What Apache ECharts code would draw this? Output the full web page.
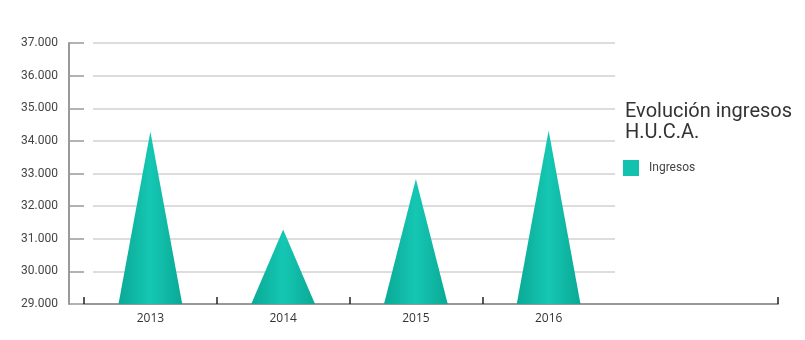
<!DOCTYPE html>
<html><head><meta charset="utf-8">
<script src="https://cdn.jsdelivr.net/npm/echarts@6/dist/echarts.min.js"></script>
<style>html,body{margin:0;padding:0;background:#fff}#c{width:805px;height:340px}</style>
</head><body><div id="c"></div>
<script>
const categories = ['2013', '2014', '2015', '2016'];
const ingresos = [34290, 31280, 32830, 34320];
const yMin = 29000;
const yMax = 37000;
const yStep = 1000;
const seriesName = 'Ingresos';
const titleText = 'Evolución ingresos\nH.U.C.A.';

const chart = echarts.init(document.getElementById('c'), null, {renderer: 'canvas'});
const fmt = v => String(v).replace(/\B(?=(\d{3})+(?!\d))/g, '.');

function renderItem(params, api) {
  const idx = api.value(0);
  const top = api.coord([idx, api.value(1)]);
  const base = api.coord([idx, yMin]);
  const half = api.size([1, 0])[0] * 0.24;
  return {
    type: 'polygon',
    shape: { points: [[base[0] - half, base[1]], [top[0], top[1]], [base[0] + half, base[1]]] },
    style: {
      fill: new echarts.graphic.LinearGradient(0, 0, 1, 0, [
        {offset: 0, color: '#0aa995'},
        {offset: 0.5, color: '#15c7b3'},
        {offset: 1, color: '#0aa995'}
      ])
    }
  };
}

const axisLineStyle = {color: '#999', width: 2};
const tickStyle = {color: '#222', width: 1.5};
chart.setOption({
  animation: false,
  title: {
    text: titleText, left: 625, top: 101, padding: 0,
    textStyle: {fontSize: 20, fontWeight: 'normal', color: '#333', fontFamily: 'Roboto', lineHeight: 21}
  },
  legend: {
    data: [{name: seriesName, icon: 'rect'}],
    left: 623, top: 160, padding: 0, itemWidth: 16, itemHeight: 16,
    textStyle: {fontSize: 12, color: '#444', fontFamily: 'Roboto', padding: [0, 0, 0, 5]}
  },
  grid: [
    {left: 84, right: 190, top: 43, bottom: 36},
    {left: 615, right: 27, top: 43, bottom: 36},
    {left: 93, right: 190, top: 43, bottom: 36},
    {left: 84, right: 322.75, top: 43, bottom: 36}
  ],
  xAxis: [
    {gridIndex: 0, type: 'category', data: categories, boundaryGap: true,
     axisLine: {onZero: false, lineStyle: axisLineStyle},
     axisTick: {show: false},
     axisLabel: {color: '#333', fontSize: 12, fontFamily: 'Open Sans', margin: 9}},
    {gridIndex: 1, type: 'category', data: ['', ''], boundaryGap: false,
     axisLine: {onZero: false, lineStyle: axisLineStyle},
     axisTick: {show: true, inside: true, length: 7, interval: (i) => i === 1, lineStyle: tickStyle},
     axisLabel: {show: false}},
    {gridIndex: 2, type: 'category', data: categories, show: false},
    {gridIndex: 3, type: 'value', min: 0, max: 3, interval: 1,
     axisLine: {show: false, onZero: false},
     axisTick: {show: true, inside: true, length: 7, lineStyle: tickStyle},
     axisLabel: {show: false}, splitLine: {show: false}}
  ],
  yAxis: [
    {gridIndex: 0, type: 'value', min: yMin, max: yMax, interval: yStep, offset: 15,
     axisLine: {show: true, lineStyle: axisLineStyle},
     axisTick: {show: true, inside: true, length: 15, lineStyle: {color: '#999', width: 1.5}},
     splitLine: {show: false},
     axisLabel: {formatter: fmt, color: '#444', fontSize: 12, fontFamily: 'Roboto', margin: 11}},
    {gridIndex: 1, type: 'value', min: yMin, max: yMax, show: false, splitLine: {show: false}},
    {gridIndex: 2, type: 'value', min: yMin, max: yMax, interval: yStep,
     axisLine: {show: false}, axisTick: {show: false}, axisLabel: {show: false},
     splitLine: {show: true, lineStyle: {color: '#ddd', width: 2}}},
    {gridIndex: 3, type: 'value', min: yMin, max: yMax, show: false, splitLine: {show: false}}
  ],
  series: [{
    name: seriesName, type: 'custom', xAxisIndex: 0, yAxisIndex: 0,
    itemStyle: {color: '#13c2ae'},
    encode: {x: 0, y: 1},
    data: ingresos.map((v, i) => [categories[i], v]),
    renderItem: renderItem,
    z: 3
  }]
});
</script></body></html>
